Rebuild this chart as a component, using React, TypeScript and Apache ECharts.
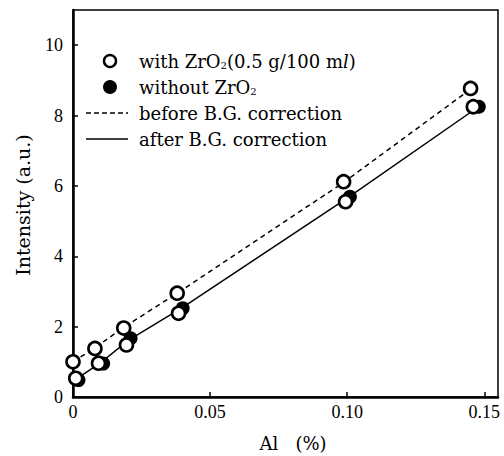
import React, { useEffect, useRef } from "react";
import * as echarts from "echarts";

// Open circles: with ZrO2, before B.G. correction
const openBeforeX = [0, 0.008, 0.0185, 0.038, 0.0987, 0.145];
const openBeforeY = [1.0, 1.38, 1.96, 2.95, 6.12, 8.77];
// Open circles: with ZrO2, after B.G. correction
const openAfterX = [0.001, 0.0093, 0.0195, 0.0385, 0.0994, 0.146];
const openAfterY = [0.53, 0.96, 1.48, 2.38, 5.55, 8.25];
// Filled circles: without ZrO2
const filledX = [0.002, 0.011, 0.021, 0.04, 0.101, 0.148];
const filledY = [0.48, 0.95, 1.67, 2.52, 5.69, 8.25];
// Lines
const dashedX = [0, 0.008, 0.0185, 0.038, 0.0987, 0.145];
const dashedY = [1.0, 1.4, 1.98, 2.95, 6.1, 8.75];
const solidX = [0.001, 0.01, 0.02, 0.04, 0.1, 0.147];
const solidY = [0.5, 0.97, 1.6, 2.55, 5.65, 8.2];

const xTicks = [0, 0.05, 0.1, 0.15];
const xTickLabels = ["0", "0.05", "0.10", "0.15"];
const yTicks = [0, 2, 4, 6, 8, 10];

const legendLabels = [
  "with ZrO{sub|2}(0.5 g/100 m{it|l})",
  "without ZrO{sub|2}",
  "before B.G. correction",
  "after B.G. correction",
];

const zip = (xs: number[], ys: number[]) => xs.map((x, i) => [x, ys[i]]);

export default function App() {
  const ref = useRef<HTMLDivElement>(null);
  useEffect(() => {
    if (!ref.current) return;
    const chart = echarts.init(ref.current, null, { renderer: "svg" });
    const serif = "Liberation Serif";
    const textFont = "DejaVu Serif";
    const rich = {
      sub: { fontSize: 10, fontFamily: textFont, verticalAlign: "bottom", padding: [8, 0, 0, 0], fill: "#000" },
      it: { fontSize: 18, fontFamily: textFont, fontStyle: "italic", fill: "#000" },
    };
    const lx = 139;
    const ly = [61, 87, 113, 139];
    const openStyle = { color: "#fff", borderColor: "#000", borderWidth: 2.6, opacity: 1 };
    chart.setOption({
      animation: false,
      backgroundColor: "#fff",
      grid: {
        left: 73,
        right: 6,
        top: 10,
        bottom: 59,
        show: true,
        borderColor: "#000",
        borderWidth: 1.5,
      },
      xAxis: {
        type: "value",
        min: 0,
        max: 0.155,
        splitLine: { show: false },
        axisLine: { lineStyle: { color: "#000", width: 2.5 } },
        axisTick: { inside: true, length: 5, lineStyle: { color: "#000", width: 1.5 }, customValues: xTicks },
        axisLabel: {
          customValues: xTicks,
          color: "#000",
          fontFamily: serif,
          fontSize: 18,
          margin: 6,
          formatter: (v: number) => {
            const i = xTicks.findIndex((t) => Math.abs(t - v) < 1e-9);
            return i >= 0 ? xTickLabels[i] : "";
          },
        },
      },
      yAxis: {
        type: "value",
        min: 0,
        max: 11,
        splitLine: { show: false },
        axisLine: { lineStyle: { color: "#000", width: 2.5 } },
        axisTick: { inside: true, length: 5, lineStyle: { color: "#000", width: 1.5 }, customValues: yTicks },
        axisLabel: {
          customValues: yTicks,
          color: "#000",
          fontFamily: serif,
          fontSize: 18,
          margin: 10,
        },
      },
      graphic: [
        {
          type: "text",
          x: 23,
          y: 205,
          rotation: Math.PI / 2,
          style: {
            text: "Intensity (a.u.)",
            fontFamily: textFont,
            fontSize: 19,
            fill: "#000",
            align: "center",
            verticalAlign: "middle",
          },
        },
        {
          type: "text",
          x: 293,
          y: 443,
          style: {
            text: "Al   (%)",
            fontFamily: textFont,
            fontSize: 18,
            fill: "#000",
            align: "center",
            verticalAlign: "middle",
          },
        },
        { type: "circle", shape: { cx: 110, cy: ly[0], r: 6 }, style: { fill: "#fff", stroke: "#000", lineWidth: 2.4 } },
        { type: "circle", shape: { cx: 110, cy: ly[1], r: 7 }, style: { fill: "#000" } },
        { type: "line", shape: { x1: 86, y1: ly[2], x2: 128, y2: ly[2] }, style: { stroke: "#000", lineWidth: 1.5, lineDash: [5, 3] } },
        { type: "line", shape: { x1: 86, y1: ly[3], x2: 128, y2: ly[3] }, style: { stroke: "#000", lineWidth: 1.5 } },
        ...legendLabels.map((t, i) => ({
          type: "text",
          x: lx,
          y: ly[i],
          style: {
            text: t,
            fontFamily: textFont,
            fontSize: 18,
            fill: "#000",
            align: "left",
            verticalAlign: "middle",
            rich,
          },
        })),
      ],
      series: [
        {
          type: "line",
          data: zip(dashedX, dashedY),
          symbol: "none",
          lineStyle: { color: "#000", width: 1.5, type: [5, 4] },
          z: 1,
        },
        {
          type: "line",
          data: zip(solidX, solidY),
          symbol: "none",
          lineStyle: { color: "#000", width: 1.5 },
          z: 1,
        },
        {
          type: "scatter",
          data: zip(filledX, filledY),
          symbolSize: 14,
          itemStyle: { color: "#000", opacity: 1 },
          z: 2,
        },
        {
          type: "scatter",
          data: zip(openBeforeX, openBeforeY),
          symbolSize: 13,
          itemStyle: openStyle,
          z: 3,
        },
        {
          type: "scatter",
          data: zip(openAfterX, openAfterY),
          symbolSize: 13,
          itemStyle: openStyle,
          z: 3,
        },
      ],
    });
    return () => chart.dispose();
  }, []);
  return <div ref={ref} style={{ width: 504, height: 456, position: "absolute", left: 0, top: 0 }} />;
}
